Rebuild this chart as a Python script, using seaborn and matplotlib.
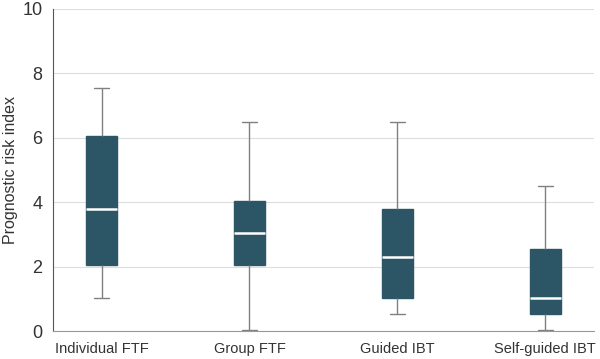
import pandas as pd
import matplotlib.pyplot as plt
import seaborn as sns
from matplotlib import font_manager

sns.set_style("white")
names = {f.name for f in font_manager.fontManager.ttflist}
narrow = 'Liberation Sans Narrow' if 'Liberation Sans Narrow' in names else 'Liberation Sans'
plt.rcParams['font.family'] = [narrow, 'DejaVu Sans']

# five-number summaries
groups = ["Individual FTF", "Group FTF", "Guided IBT", "Self-guided IBT"]
whisker_low = [1.05, 0.05, 0.55, 0.05]
q1 = [2.05, 2.05, 1.05, 0.55]
median = [3.8, 3.05, 2.3, 1.05]
q3 = [6.05, 4.05, 3.8, 2.55]
whisker_high = [7.55, 6.5, 6.5, 4.5]

rows = []
for i, g in enumerate(groups):
    for v in [whisker_low[i], q1[i], median[i], q3[i], whisker_high[i]]:
        rows.append({"group": g, "value": v})
df = pd.DataFrame(rows)

fill = '#2c5566'
fig, ax = plt.subplots(figsize=(6, 3.59), dpi=100)
sns.boxplot(data=df, x="group", y="value", order=groups, whis=(0, 100),
            width=0.21, color=fill, saturation=1, ax=ax,
            boxprops=dict(facecolor=fill, edgecolor=fill, linewidth=1),
            medianprops=dict(color='white', linewidth=1.8),
            whiskerprops=dict(color='#808080', linewidth=1),
            capprops=dict(color='#808080', linewidth=1))

# narrower caps, like the reference
for line in ax.lines:
    xd = line.get_xdata()
    if len(xd) == 2 and xd[0] != xd[1]:
        yd = line.get_ydata()
        if yd[0] == yd[1] and abs(xd[1] - xd[0]) < 0.2 and line.get_color() != 'white':
            c = (xd[0] + xd[1]) / 2
            line.set_xdata([c - 0.05, c + 0.05])

ax.set_ylim(0, 10)
ax.set_yticks([0, 2, 4, 6, 8, 10])
ax.set_xlim(-0.33, 3.33)
ax.yaxis.grid(True, color='#dddddd', linewidth=0.8)
ax.set_axisbelow(True)
for s in ['top', 'right']:
    ax.spines[s].set_visible(False)
ax.spines['left'].set_color('#555555')
ax.spines['bottom'].set_color('#999999')
ax.tick_params(axis='y', length=4, color='#555555', labelsize=13, labelcolor='#333333')
ax.tick_params(axis='x', length=4, color='#999999', labelsize=10.5, labelcolor='#333333')
ax.set_xlabel("")
ax.set_ylabel("Prognostic risk index", fontsize=11.5, color='#333333', labelpad=3)

plt.subplots_adjust(left=0.088, right=0.99, top=0.975, bottom=0.077)
plt.savefig("out.png", dpi=100)
